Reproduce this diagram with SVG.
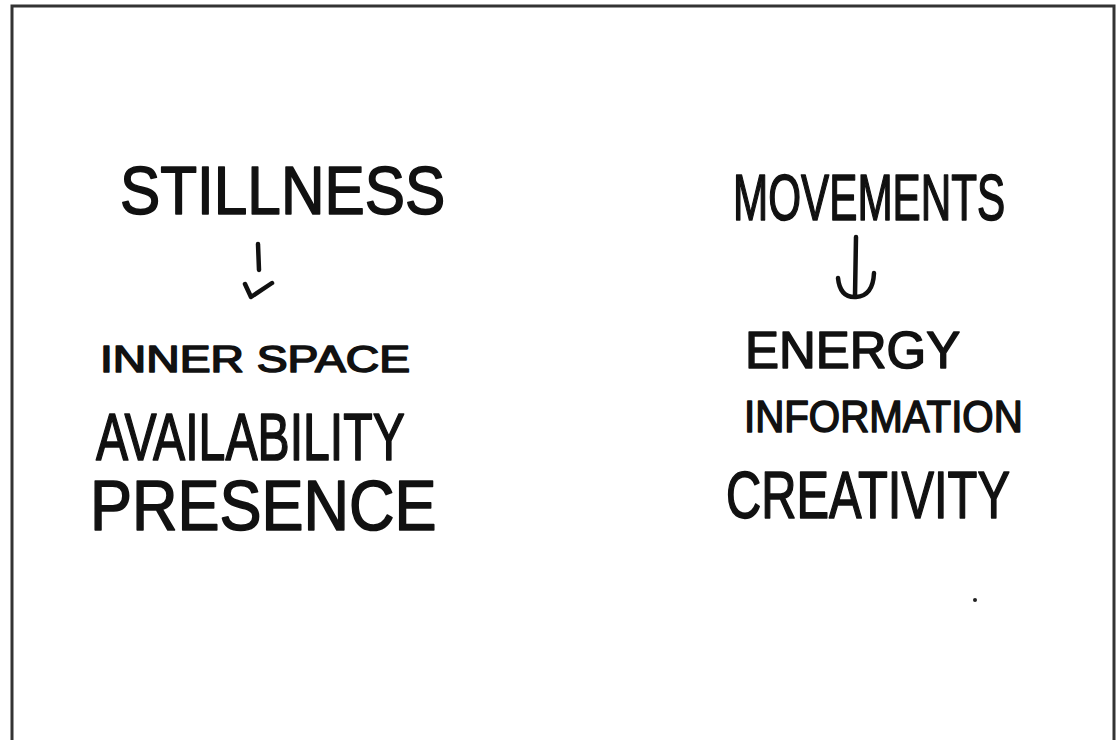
<svg xmlns="http://www.w3.org/2000/svg" width="1118" height="740" viewBox="0 0 1118 740">
<style>
.t{font-family:"Liberation Sans",Arial,sans-serif;fill:#111;stroke:#111;stroke-width:1.6;stroke-linejoin:round}
.a{fill:none;stroke:#111;stroke-width:4.5;stroke-linecap:round;stroke-linejoin:round}
</style>
<rect x="0" y="0" width="1118" height="740" fill="#ffffff"/>
<path d="M12 742 V6 H1114 V742" fill="none" stroke="#333" stroke-width="3"/>
<g id="stillness"><text class="t" transform="translate(120,214) scale(0.887,1)" font-size="68">STILLNESS</text></g>
<g id="movements"><text class="t" transform="translate(733,220) scale(0.66,1)" font-size="64">MOVEMENTS</text></g>
<g id="left-list">
<text class="t" transform="translate(100,372) scale(1.25,1)" font-size="37">INNER SPACE</text>
<text class="t" transform="translate(96,460) scale(0.73,1)" font-size="66">AVAILABILITY</text>
<text class="t" transform="translate(90,530) scale(0.9,1)" font-size="70">PRESENCE</text>
</g>
<g id="right-list">
<text class="t" transform="translate(745,368) scale(0.98,1)" font-size="52">ENERGY</text>
<text class="t" transform="translate(744,432) scale(0.915,1)" font-size="44">INFORMATION</text>
<text class="t" transform="translate(726,518) scale(0.74,1)" font-size="66">CREATIVITY</text>
</g>
<g id="connectors">
<path class="a" d="M258 244 L259 270"/>
<path class="a" d="M245 284 L251 297 L272 283"/>
<path class="a" d="M856 237 L855 296"/>
<path class="a" d="M838 278 Q840 298 856 297 Q873 296 874 273"/>
</g>
<circle cx="975" cy="600" r="2" fill="#222"/>
</svg>
